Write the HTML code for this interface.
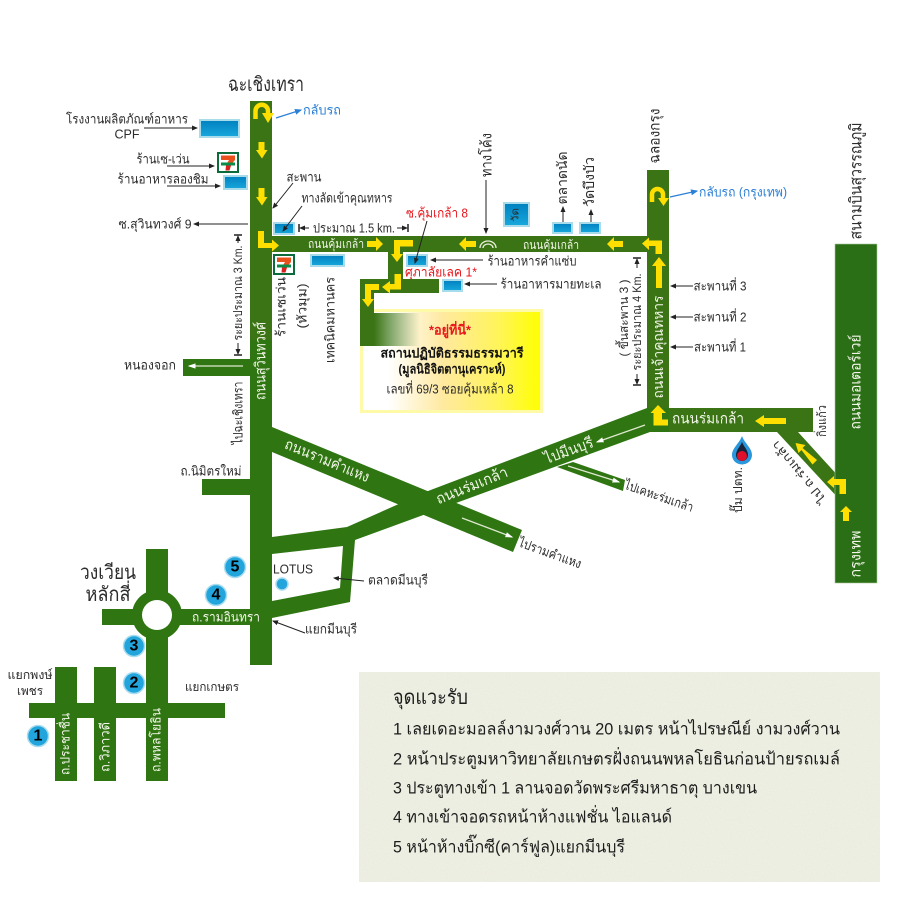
<!DOCTYPE html>
<html><head><meta charset="utf-8"><style>
html,body{margin:0;padding:0;background:#fff}
svg{display:block}
text{font-family:"Liberation Sans","Noto Sans CJK SC",sans-serif;fill:#2c2c2c;font-size:13px;dominant-baseline:central;text-anchor:middle}
.w{fill:#f2f6e8}.b{fill:#2a7fd6}.r{fill:#e8161c}
.l{font-size:17px;text-anchor:start;fill:#1c1c1c}
.ln{stroke:#222;stroke-width:1;fill:none}
.wl{stroke:#dfe8d0;stroke-width:1.300;fill:none}
.y{fill:#ffdf00}
.ys{fill:none;stroke:#ffdf00}
.bx{fill:url(#bg);stroke:#a8dcea;stroke-width:2}
</style></head><body>
<svg width="900" height="900" viewBox="0 0 900 900" xmlns="http://www.w3.org/2000/svg">
<defs>
<linearGradient id="bg" x1="0" y1="0" x2="0" y2="1"><stop offset="0" stop-color="#0080c0"/><stop offset="1" stop-color="#18a8dc"/></linearGradient>
<linearGradient id="yg" x1="0" y1="0" x2="1" y2="0"><stop offset="0" stop-color="#fff"/><stop offset=".15" stop-color="#fff"/><stop offset=".45" stop-color="#ffe9a0"/><stop offset=".75" stop-color="#fff45c"/><stop offset="1" stop-color="#ffff00"/></linearGradient>
<linearGradient id="gg" x1="0" y1="0" x2="1" y2="0"><stop offset="0" stop-color="#3a7415"/><stop offset="1" stop-color="#3a7415" stop-opacity="0"/></linearGradient>
<marker id="m" markerWidth="6" markerHeight="6" refX="5" refY="3" orient="auto"><path d="M0 .5L6 3L0 5.500z" fill="#222"/></marker>
<marker id="mb" markerWidth="6" markerHeight="6" refX="5" refY="3" orient="auto"><path d="M0 .5L6 3L0 5.500z" fill="#2a7fd6"/></marker>
<marker id="mw" markerWidth="6" markerHeight="6" refX="5" refY="3" orient="auto"><path d="M0 1L6 3L0 5z" fill="#fff"/></marker>
<filter id="nz" x="0" y="0" width="100%" height="100%"><feTurbulence type="fractalNoise" baseFrequency=".7" numOctaves="2" seed="3"/><feColorMatrix values="0 0 0 0 .55  0 0 0 0 .56  0 0 0 0 .45  0 0 0 .35 -.08"/></filter>
<g id="s11"><rect x="1" y="1" width="20" height="19" fill="#fff" stroke="#0b6b3a" stroke-width="2"/><path d="M4 3.500h14v4.500l-3.500 4h-5l2.500-4H4z" fill="#e8501c"/><rect x="4" y="10.500" width="14" height="3" fill="#0b8a48"/><path d="M9 13.500h5l-1.500 5h-4z" fill="#d8201c"/></g>
</defs>

<!-- yellow box -->
<rect x="361.500" y="310.500" width="180" height="101" fill="url(#yg)" stroke="#fffaa8" stroke-width="3"/>

<!-- roads top part -->
<g fill="#3a7415">
<rect x="250" y="101" width="22" height="270"/>
<rect x="272" y="236" width="375" height="16"/>
<rect x="647" y="170" width="22" height="260"/>
<rect x="388" y="252" width="15" height="28"/>
<rect x="360" y="279" width="79" height="14"/>
<rect x="360" y="293" width="14" height="53"/>
<rect x="669" y="408" width="144" height="24"/>
<path d="M777 432L798 432L840 478L840 500Z"/>
</g>
<rect x="374" y="313" width="46" height="33" fill="url(#gg)"/>

<!-- roads lower -->
<g fill="#2f7612">
<rect x="250" y="340" width="22" height="325"/>
<rect x="183" y="359" width="67" height="17"/>
<rect x="202" y="479" width="48" height="16"/>
<path d="M272 427L522 530L513 552L272 452Z"/>
<path d="M557 467L573 462L625 480L623 491Z"/>
<path d="M647 408H669V432H650L355 540L350 602L272 618V601L340 588L343 546L272 554V537L347 527L428 491Z"/>
<rect x="102" y="609" width="148" height="16"/>
<rect x="146" y="549" width="22" height="232"/>
<rect x="29" y="703" width="196" height="15"/>
<rect x="55" y="667" width="22" height="114"/>
<rect x="94" y="667" width="22" height="114"/>
<circle cx="157" cy="615" r="25"/>
</g>
<circle cx="157" cy="615" r="15" fill="#fff"/>
<rect x="835" y="244" width="42" height="339" fill="#2a6e15" stroke="#a8c898" stroke-width=".6"/>

<!-- yellow arrows -->
<g class="y">
<path d="M258.500 142h6v8h3l-5.500 8.500l-6-8.500h2.500z"/>
<path d="M258.500 188h6v9h3l-5.500 8.500l-6-8.500h2.500z"/>
<path d="M258 231h6v12h8v-3.500l7 6l-7 6v-3.500h-14z"/>
<path d="M262 113h12l-6 10z"/>
<path d="M367 241h9v-4l7 7l-7 7v-4h-9z"/>
<path d="M476 241h-10v-4l-7 7l7 7v-4h10z"/>
<path d="M623 241h-9v-4l-7 7l7 7v-4h9z"/>
<path d="M413 240v6.500h-13v7.500h3l-6 8l-6-8h3v-14z"/>
<path d="M394.500 274h6.500v15.500h-11v4l-8-6.500l8-6v3h4.500z"/>
<path d="M379 284v6h-8v9h3l-6 8l-6-8h3v-15z"/>
<path d="M662 254h-6.500v-8h-6.500v4l-7-6.500l7-6v3h13z"/>
<path d="M656 288v-22h-4l7-9l7 9h-4v22z"/>
<path d="M668 419.500v6h-14.500v-12.500h-3l7.500-8l8 8h-4v6.500z"/>
<path d="M786 418h-22v-3l-9 6l9 6v-3h22z"/>
<path d="M817 460l-4.500 4.500l-11-14.500l-3 3l-3-10l10 2l-3 3z"/>
<path d="M846 494h-6.500v-9h-5.500v3l-7-6l7-6v3h12z"/>
<path d="M843 521v-9h-3l6-6l6 6h-3v9z"/>
</g>
<path class="ys" stroke-width="4.500" d="M255.500 119v-8a6 6 0 0 1 12.500 0v5"/>
<path class="ys" stroke-width="4.500" d="M652 202v-7a5.500 5.500 0 0 1 11-1v5"/>
<path class="y" d="M658 198h11l-5.500 8z"/>

<!-- arc symbol -->
<g fill="none" stroke="#e8efd8" stroke-width="1.300"><path d="M480 248a8 7 0 0 1 16 0"/><path d="M483 248a5 4 0 0 1 10 0"/></g>

<!-- blue places -->
<rect class="bx" x="200" y="120" width="39" height="17"/>
<rect class="bx" x="224" y="176" width="23" height="13"/>
<rect class="bx" x="274" y="223" width="20" height="11"/>
<rect class="bx" x="311" y="255" width="33" height="11"/>
<rect class="bx" x="407" y="255" width="20" height="11"/>
<rect class="bx" x="443" y="280" width="19" height="11"/>
<rect class="bx" x="504" y="203" width="25" height="23"/>
<rect class="bx" x="553" y="223" width="19" height="10"/>
<rect class="bx" x="580" y="223" width="20" height="10"/>
<use href="#s11" x="217" y="152"/>
<use href="#s11" x="273" y="254"/>

<!-- PTT -->
<path d="M742 436C745 444 752 448 752 455A10 9.500 0 0 1 732 455C732 448 739 444 742 436Z" fill="#2a96dc"/>
<path d="M742 442C744 447 748 450 748 455A6 6 0 0 1 736 455C736 450 740 447 742 442Z" fill="#16233a"/>
<circle cx="742" cy="456" r="5" fill="#e0102a"/>

<!-- numbered circles -->
<g fill="#22a4dc" stroke="#a8dcee" stroke-width="1.500">
<circle cx="38" cy="736" r="10.500"/><circle cx="134" cy="683" r="10.500"/><circle cx="134" cy="646" r="10.500"/><circle cx="216" cy="595" r="10.500"/><circle cx="235" cy="567" r="10.500"/><circle cx="282" cy="584" r="6"/>
</g>
<text x="38" y="736" style="font-size:16px;font-weight:bold;fill:#000">1</text>
<text x="134" y="683" style="font-size:16px;font-weight:bold;fill:#000">2</text>
<text x="134" y="646" style="font-size:16px;font-weight:bold;fill:#000">3</text>
<text x="216" y="595" style="font-size:16px;font-weight:bold;fill:#000">4</text>
<text x="235" y="567" style="font-size:16px;font-weight:bold;fill:#000">5</text>

<!-- leader lines -->
<g class="ln">
<path marker-end="url(#m)" d="M144 128H197"/>
<path marker-end="url(#m)" d="M167 166H214"/>
<path marker-end="url(#m)" d="M167 186H220"/>
<path marker-end="url(#m)" d="M248 224H194"/>
<path marker-end="url(#m)" d="M293 183L273 208"/>
<path marker-end="url(#m)" d="M302 206L283 231"/>
<path marker-end="url(#m)" d="M427 221L415 263"/>
<path marker-end="url(#m)" d="M483 260H431"/>
<path marker-end="url(#m)" d="M497 284H465"/>
<path marker-end="url(#m)" d="M486 180V233"/>
<path marker-end="url(#m)" d="M563 222V207"/>
<path marker-end="url(#m)" d="M591 222V210"/>
<path marker-end="url(#m)" d="M693 286H671"/>
<path marker-end="url(#m)" d="M693 317H671"/>
<path marker-end="url(#m)" d="M693 347H671"/>
<path marker-end="url(#m)" d="M364 581L334 578"/>
<path marker-end="url(#m)" d="M305 633L273 621"/>
<path marker-end="url(#m)" d="M309 228H300"/>
<path marker-end="url(#m)" d="M397 228H407"/>
<path marker-end="url(#m)" d="M238 243V236"/>
<path marker-end="url(#m)" d="M238 343V354"/>
<path marker-end="url(#m)" d="M637 268V259"/>
<path marker-end="url(#m)" d="M637 374V384"/>
</g>
<g stroke="#222" stroke-width="1.500"><path d="M299 224v8M408 224v8M234 235h8M234 355h8M633 258h8M633 385h8"/></g>
<path d="M276 118L301 110" stroke="#2a7fd6" stroke-width="1.200" fill="none" marker-end="url(#mb)"/>
<path d="M670 197L697 191" stroke="#2a7fd6" stroke-width="1.200" fill="none" marker-end="url(#mb)"/>

<!-- white arrows on roads -->
<path class="wl" marker-end="url(#mw)" d="M243 366H189"/>
<path class="wl" marker-end="url(#mw)" d="M645 425L597 442"/>
<path class="wl" marker-end="url(#mw)" d="M568 466L619 482"/>
<path class="wl" marker-end="url(#mw)" d="M462 518L512 537"/>

<!-- horizontal labels -->
<text x="266" y="85" style="font-size:20px" textLength="76" lengthAdjust="spacingAndGlyphs">ฉะเชิงเทรา</text>
<text x="127" y="119" textLength="122" lengthAdjust="spacingAndGlyphs">โรงงานผลิตภัณฑ์อาหาร</text>
<text x="127" y="134" textLength="25" lengthAdjust="spacingAndGlyphs">CPF</text>
<text x="163" y="159" textLength="53" lengthAdjust="spacingAndGlyphs">ร้านเซ-เว่น</text>
<text x="163" y="179" textLength="91" lengthAdjust="spacingAndGlyphs">ร้านอาหารลองชิม</text>
<text x="155" y="224" textLength="73" lengthAdjust="spacingAndGlyphs">ซ.สุวินทวงศ์ 9</text>
<text class="b" x="322" y="110" textLength="38" lengthAdjust="spacingAndGlyphs">กลับรถ</text>
<text class="b" x="743" y="192" textLength="88" lengthAdjust="spacingAndGlyphs">กลับรถ (กรุงเทพ)</text>
<text x="304" y="177" textLength="35" lengthAdjust="spacingAndGlyphs">สะพาน</text>
<text x="347" y="198" textLength="91" lengthAdjust="spacingAndGlyphs">ทางลัดเข้าคุณทหาร</text>
<text x="354" y="228" textLength="82" lengthAdjust="spacingAndGlyphs">ประมาณ 1.5 km.</text>
<text class="w" x="336" y="244" style="font-size:12px" textLength="56" lengthAdjust="spacingAndGlyphs">ถนนคุ้มเกล้า</text>
<text class="w" x="551" y="245" style="font-size:12px" textLength="56" lengthAdjust="spacingAndGlyphs">ถนนคุ้มเกล้า</text>
<text class="r" x="437" y="213" textLength="62" lengthAdjust="spacingAndGlyphs">ซ.คุ้มเกล้า 8</text>
<text class="r" x="441" y="272" textLength="72" lengthAdjust="spacingAndGlyphs">ศุภาลัยเลค 1*</text>
<text x="532" y="261" textLength="89" lengthAdjust="spacingAndGlyphs">ร้านอาหารคำแซ่บ</text>
<text x="551" y="284" textLength="101" lengthAdjust="spacingAndGlyphs">ร้านอาหารมายทะเล</text>
<text x="720" y="286" textLength="53" lengthAdjust="spacingAndGlyphs">สะพานที่ 3</text>
<text x="720" y="317" textLength="53" lengthAdjust="spacingAndGlyphs">สะพานที่ 2</text>
<text x="720" y="347" textLength="52" lengthAdjust="spacingAndGlyphs">สะพานที่ 1</text>
<text class="w" x="708" y="419" style="font-size:15px" textLength="72" lengthAdjust="spacingAndGlyphs">ถนนร่มเกล้า</text>
<text class="r" x="450" y="330" style="font-size:13px;font-weight:bold" textLength="42" lengthAdjust="spacingAndGlyphs">*อยู่ที่นี่*</text>
<text x="452" y="353" style="font-size:13px;font-weight:bold;fill:#111" textLength="143" lengthAdjust="spacingAndGlyphs">สถานปฏิบัติธรรมธรรมวารี</text>
<text x="452" y="369" style="font-size:13px;font-weight:bold;fill:#111" textLength="107" lengthAdjust="spacingAndGlyphs">(มูลนิธิจิตตานุเคราะห์)</text>
<text x="450" y="389" textLength="127" lengthAdjust="spacingAndGlyphs">เลขที่ 69/3  ซอยคุ้มเหล้า 8</text>
<text x="150" y="365" textLength="52" lengthAdjust="spacingAndGlyphs">หนองจอก</text>
<text x="211" y="471" textLength="61" lengthAdjust="spacingAndGlyphs">ถ.นิมิตรใหม่</text>
<text x="293" y="569" textLength="40" lengthAdjust="spacingAndGlyphs">LOTUS</text>
<text x="398" y="580" textLength="60" lengthAdjust="spacingAndGlyphs">ตลาดมีนบุรี</text>
<text x="331" y="629" textLength="52" lengthAdjust="spacingAndGlyphs">แยกมีนบุรี</text>
<text class="w" x="226" y="617" textLength="68" lengthAdjust="spacingAndGlyphs">ถ.รามอินทรา</text>
<text x="108" y="573" style="font-size:20px" textLength="56" lengthAdjust="spacingAndGlyphs">วงเวียน</text>
<text x="108" y="595" style="font-size:20px" textLength="45" lengthAdjust="spacingAndGlyphs">หลักสี่</text>
<text x="30" y="675" style="font-size:12px" textLength="45" lengthAdjust="spacingAndGlyphs">แยกพงษ์</text>
<text x="30" y="691" style="font-size:12px" textLength="26" lengthAdjust="spacingAndGlyphs">เพชร</text>
<text x="212" y="687" style="font-size:12px" textLength="54" lengthAdjust="spacingAndGlyphs">แยกเกษตร</text>

<!-- rotated labels -->
<text transform="translate(281,307) rotate(-90)" textLength="60" lengthAdjust="spacingAndGlyphs">ร้านเซเว่น</text>
<text transform="translate(302,306) rotate(-90)" textLength="45" lengthAdjust="spacingAndGlyphs">(หัวมุม)</text>
<text transform="translate(330,320) rotate(-90)" textLength="86" lengthAdjust="spacingAndGlyphs">เทคนิคมหานคร</text>
<text transform="translate(238,293) rotate(-90)" style="font-size:12px" textLength="95" lengthAdjust="spacingAndGlyphs">ระยะประมาณ 3 Km.</text>
<text class="w" transform="translate(261,361) rotate(-90)" style="font-size:15px" textLength="78" lengthAdjust="spacingAndGlyphs">ถนนสุวินทวงศ์</text>
<text transform="translate(238,413) rotate(-90)" textLength="63" lengthAdjust="spacingAndGlyphs">ไปฉะเชิงเทรา</text>
<text class="w" transform="translate(327,461) rotate(22.400)" style="font-size:15px" textLength="90" lengthAdjust="spacingAndGlyphs">ถนนรามคำแหง</text>
<text class="w" transform="translate(472,486) rotate(-22)" style="font-size:15px" textLength="76" lengthAdjust="spacingAndGlyphs">ถนนร่มเกล้า</text>
<text class="w" transform="translate(569,451) rotate(-20)" style="font-size:15px" textLength="51" lengthAdjust="spacingAndGlyphs">ไปมีนบุรี</text>
<text transform="translate(659,496) rotate(19)" textLength="72" lengthAdjust="spacingAndGlyphs">ไปเคหะร่มเกล้า</text>
<text transform="translate(550,553) rotate(20)" textLength="66" lengthAdjust="spacingAndGlyphs">ไปรามคำแหง</text>
<text transform="translate(487,155) rotate(-90)" style="font-size:15px" textLength="44" lengthAdjust="spacingAndGlyphs">ทางโค้ง</text>
<text transform="translate(516,215) rotate(-90)" style="font-size:10px" textLength="14" lengthAdjust="spacingAndGlyphs">วัด</text>
<text transform="translate(562,178) rotate(-90)" style="font-size:14px" textLength="53" lengthAdjust="spacingAndGlyphs">ตลาดนัด</text>
<text transform="translate(589,182) rotate(-90)" style="font-size:14px" textLength="50" lengthAdjust="spacingAndGlyphs">วัดบึงบัว</text>
<text transform="translate(655,136) rotate(-90)" style="font-size:15px" textLength="55" lengthAdjust="spacingAndGlyphs">ฉลองกรุง</text>
<text class="w" transform="translate(658,347) rotate(-90)" style="font-size:14px" textLength="103" lengthAdjust="spacingAndGlyphs">ถนนเจ้าคุณทหาร</text>
<text transform="translate(637,322) rotate(-90)" style="font-size:12px" textLength="97" lengthAdjust="spacingAndGlyphs">ระยะประมาณ 4 Km.</text>
<text transform="translate(624,318) rotate(-90)" style="font-size:12px" textLength="77" lengthAdjust="spacingAndGlyphs">( ขึ้นสะพาน 3 )</text>
<text transform="translate(738,490) rotate(-90)" style="font-size:12px" textLength="46" lengthAdjust="spacingAndGlyphs">ปั๊ม ปตท.</text>
<text transform="translate(822,421) rotate(-90)" style="font-size:12px" textLength="32" lengthAdjust="spacingAndGlyphs">กิ่งแก้ว</text>
<text transform="translate(799,472) rotate(230)" style="font-size:12px" textLength="77" lengthAdjust="spacingAndGlyphs">ไป ถ.ร่มเกล้า</text>
<text transform="translate(856,181) rotate(-90)" style="font-size:17px" textLength="117" lengthAdjust="spacingAndGlyphs">สนามบินสุวรรณภูมิ</text>
<text class="w" transform="translate(856,382) rotate(-90)" style="font-size:15px" textLength="95" lengthAdjust="spacingAndGlyphs">ถนนมอเตอร์เวย์</text>
<text class="w" transform="translate(856,554) rotate(-90)" style="font-size:15px" textLength="47" lengthAdjust="spacingAndGlyphs">กรุงเทพ</text>
<text class="w" transform="translate(65,744) rotate(-90)" textLength="62" lengthAdjust="spacingAndGlyphs">ถ.ประชาชื่น</text>
<text class="w" transform="translate(105,747) rotate(-90)" textLength="50" lengthAdjust="spacingAndGlyphs">ถ.วิภาวดี</text>
<text class="w" transform="translate(156,740) rotate(-90)" textLength="64" lengthAdjust="spacingAndGlyphs">ถ.พหลโยธิน</text>

<!-- panel -->
<rect x="359" y="672" width="521" height="210" fill="#eff0e4"/>
<rect x="359" y="672" width="521" height="210" filter="url(#nz)" opacity=".5"/>
<text class="l" x="393" y="698" style="font-size:20px" textLength="75" lengthAdjust="spacingAndGlyphs">จุดแวะรับ</text>
<text class="l" x="393" y="729" textLength="447" lengthAdjust="spacingAndGlyphs">1 เลยเดอะมอลล์งามวงศ์วาน 20 เมตร หน้าไปรษณีย์ งามวงศ์วาน</text>
<text class="l" x="393" y="759" textLength="447" lengthAdjust="spacingAndGlyphs">2 หน้าประตูมหาวิทยาลัยเกษตรฝั่งถนนพหลโยธินก่อนป้ายรถเมล์</text>
<text class="l" x="393" y="788" textLength="364" lengthAdjust="spacingAndGlyphs">3 ประตูทางเข้า 1 ลานจอดวัดพระศรีมหาธาตุ บางเขน</text>
<text class="l" x="393" y="817" textLength="279" lengthAdjust="spacingAndGlyphs">4 ทางเข้าจอดรถหน้าห้างแฟชั่น ไอแลนด์</text>
<text class="l" x="393" y="847" textLength="232" lengthAdjust="spacingAndGlyphs">5 หน้าห้างบิ๊กซี(คาร์ฟูล)แยกมีนบุรี</text>
</svg>
</body></html>
